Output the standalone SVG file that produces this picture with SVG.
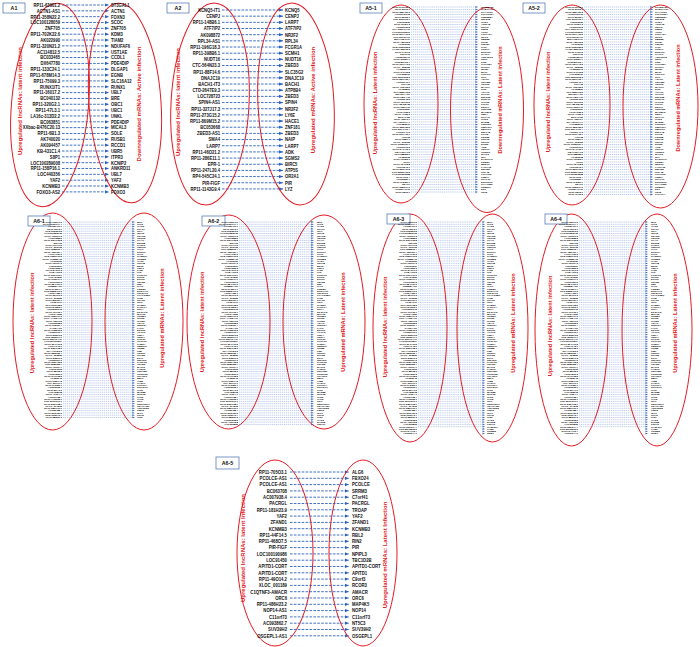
<svg xmlns="http://www.w3.org/2000/svg" width="700" height="647" viewBox="0 0 700 647">
<style>
text{font-family:"Liberation Sans",Arial,sans-serif;font-weight:bold}
.g{font-size:5.2px;fill:#111}
.e{text-anchor:end}
.s{font-size:2.5px;fill:#000}
.v{font-size:6px;fill:#e31b23;text-anchor:middle}
.v2{font-size:5.6px}
.el{fill:none;stroke:#e31b23;stroke-width:1}
.bx{fill:#fff;stroke:#5a7fb8;stroke-width:.8}
.bt{font-size:5.3px;fill:#111;text-anchor:middle}
.cn{fill:none;stroke:#2d62bd;stroke-width:.9;stroke-dasharray:2.6 1.3;marker-end:url(#ah)}
.sc{fill:none;stroke:#6d8fcf;stroke-width:.45;stroke-dasharray:1.2 .7}
.sa{fill:#3563b5}
</style>
<defs>
<marker id="ah" markerUnits="userSpaceOnUse" markerWidth="4" markerHeight="4" viewBox="0 0 4 4" refX="4" refY="2" orient="auto"><path d="M0 .4L4 2L0 3.6z" fill="#2d62bd"/></marker>
<clipPath id="c74"><rect x="-60" y="-2" width="180" height="188.2"/></clipPath>
<clipPath id="c86"><rect x="-60" y="-2" width="180" height="198.6"/></clipPath>
<clipPath id="c89"><rect x="-60" y="-2" width="180" height="205.5"/></clipPath>
<path id="K5" class="sc" d="M1 0h63m-63 2.5h63m-63 2.5h63m-63 2.5h63m-63 2.5h63m-63 2.5h63m-63 2.5h63m-63 2.5h63m-63 2.5h63m-63 2.5h63m-63 2.5h63m-63 2.5h63m-63 2.5h63m-63 2.5h63m-63 2.5h63m-63 2.5h63m-63 2.5h63m-63 2.5h63m-63 2.5h63m-63 2.5h63m-63 2.5h63m-63 2.5h63m-63 2.5h63m-63 2.5h63m-63 2.5h63m-63 2.5h63m-63 2.5h63m-63 2.5h63m-63 2.5h63m-63 2.5h63m-63 2.5h63m-63 2.5h63m-63 2.5h63m-63 2.5h63m-63 2.5h63m-63 2.5h63m-63 2.5h63m-63 2.5h63m-63 2.5h63m-63 2.5h63m-63 2.5h63m-63 2.5h63m-63 2.5h63m-63 2.5h63m-63 2.5h63m-63 2.5h63m-63 2.5h63m-63 2.5h63m-63 2.5h63m-63 2.5h63m-63 2.5h63m-63 2.5h63m-63 2.5h63m-63 2.5h63m-63 2.5h63m-63 2.5h63m-63 2.5h63m-63 2.5h63m-63 2.5h63m-63 2.5h63m-63 2.5h63m-63 2.5h63m-63 2.5h63m-63 2.5h63m-63 2.5h63m-63 2.5h63m-63 2.5h63m-63 2.5h63m-63 2.5h63m-63 2.5h63m-63 2.5h63m-63 2.5h63m-63 2.5h63m-63 2.5h63m-63 2.5h63m-63 2.5h63"/>
<path id="H5" class="sa" d="M67 0l-2.6-.9v1.8zm0 2.5l-2.6-.9v1.8zm0 2.5l-2.6-.9v1.8zm0 2.5l-2.6-.9v1.8zm0 2.5l-2.6-.9v1.8zm0 2.5l-2.6-.9v1.8zm0 2.5l-2.6-.9v1.8zm0 2.5l-2.6-.9v1.8zm0 2.5l-2.6-.9v1.8zm0 2.5l-2.6-.9v1.8zm0 2.5l-2.6-.9v1.8zm0 2.5l-2.6-.9v1.8zm0 2.5l-2.6-.9v1.8zm0 2.5l-2.6-.9v1.8zm0 2.5l-2.6-.9v1.8zm0 2.5l-2.6-.9v1.8zm0 2.5l-2.6-.9v1.8zm0 2.5l-2.6-.9v1.8zm0 2.5l-2.6-.9v1.8zm0 2.5l-2.6-.9v1.8zm0 2.5l-2.6-.9v1.8zm0 2.5l-2.6-.9v1.8zm0 2.5l-2.6-.9v1.8zm0 2.5l-2.6-.9v1.8zm0 2.5l-2.6-.9v1.8zm0 2.5l-2.6-.9v1.8zm0 2.5l-2.6-.9v1.8zm0 2.5l-2.6-.9v1.8zm0 2.5l-2.6-.9v1.8zm0 2.5l-2.6-.9v1.8zm0 2.5l-2.6-.9v1.8zm0 2.5l-2.6-.9v1.8zm0 2.5l-2.6-.9v1.8zm0 2.5l-2.6-.9v1.8zm0 2.5l-2.6-.9v1.8zm0 2.5l-2.6-.9v1.8zm0 2.5l-2.6-.9v1.8zm0 2.5l-2.6-.9v1.8zm0 2.5l-2.6-.9v1.8zm0 2.5l-2.6-.9v1.8zm0 2.5l-2.6-.9v1.8zm0 2.5l-2.6-.9v1.8zm0 2.5l-2.6-.9v1.8zm0 2.5l-2.6-.9v1.8zm0 2.5l-2.6-.9v1.8zm0 2.5l-2.6-.9v1.8zm0 2.5l-2.6-.9v1.8zm0 2.5l-2.6-.9v1.8zm0 2.5l-2.6-.9v1.8zm0 2.5l-2.6-.9v1.8zm0 2.5l-2.6-.9v1.8zm0 2.5l-2.6-.9v1.8zm0 2.5l-2.6-.9v1.8zm0 2.5l-2.6-.9v1.8zm0 2.5l-2.6-.9v1.8zm0 2.5l-2.6-.9v1.8zm0 2.5l-2.6-.9v1.8zm0 2.5l-2.6-.9v1.8zm0 2.5l-2.6-.9v1.8zm0 2.5l-2.6-.9v1.8zm0 2.5l-2.6-.9v1.8zm0 2.5l-2.6-.9v1.8zm0 2.5l-2.6-.9v1.8zm0 2.5l-2.6-.9v1.8zm0 2.5l-2.6-.9v1.8zm0 2.5l-2.6-.9v1.8zm0 2.5l-2.6-.9v1.8zm0 2.5l-2.6-.9v1.8zm0 2.5l-2.6-.9v1.8zm0 2.5l-2.6-.9v1.8zm0 2.5l-2.6-.9v1.8zm0 2.5l-2.6-.9v1.8zm0 2.5l-2.6-.9v1.8zm0 2.5l-2.6-.9v1.8zm0 2.5l-2.6-.9v1.8zm0 2.5l-2.6-.9v1.8z"/>
<path id="K6" class="sc" d="M1 0h67.5m-67.5 2.3h67.5m-67.5 2.3h67.5m-67.5 2.3h67.5m-67.5 2.3h67.5m-67.5 2.3h67.5m-67.5 2.3h67.5m-67.5 2.3h67.5m-67.5 2.3h67.5m-67.5 2.3h67.5m-67.5 2.3h67.5m-67.5 2.3h67.5m-67.5 2.3h67.5m-67.5 2.3h67.5m-67.5 2.3h67.5m-67.5 2.3h67.5m-67.5 2.3h67.5m-67.5 2.3h67.5m-67.5 2.3h67.5m-67.5 2.3h67.5m-67.5 2.3h67.5m-67.5 2.3h67.5m-67.5 2.3h67.5m-67.5 2.3h67.5m-67.5 2.3h67.5m-67.5 2.3h67.5m-67.5 2.3h67.5m-67.5 2.3h67.5m-67.5 2.3h67.5m-67.5 2.3h67.5m-67.5 2.3h67.5m-67.5 2.3h67.5m-67.5 2.3h67.5m-67.5 2.3h67.5m-67.5 2.3h67.5m-67.5 2.3h67.5m-67.5 2.3h67.5m-67.5 2.3h67.5m-67.5 2.3h67.5m-67.5 2.3h67.5m-67.5 2.3h67.5m-67.5 2.3h67.5m-67.5 2.3h67.5m-67.5 2.3h67.5m-67.5 2.3h67.5m-67.5 2.3h67.5m-67.5 2.3h67.5m-67.5 2.3h67.5m-67.5 2.3h67.5m-67.5 2.3h67.5m-67.5 2.3h67.5m-67.5 2.3h67.5m-67.5 2.3h67.5m-67.5 2.3h67.5m-67.5 2.3h67.5m-67.5 2.3h67.5m-67.5 2.3h67.5m-67.5 2.3h67.5m-67.5 2.3h67.5m-67.5 2.3h67.5m-67.5 2.3h67.5m-67.5 2.3h67.5m-67.5 2.3h67.5m-67.5 2.3h67.5m-67.5 2.3h67.5m-67.5 2.3h67.5m-67.5 2.3h67.5m-67.5 2.3h67.5m-67.5 2.3h67.5m-67.5 2.3h67.5m-67.5 2.3h67.5m-67.5 2.3h67.5m-67.5 2.3h67.5m-67.5 2.3h67.5m-67.5 2.3h67.5m-67.5 2.3h67.5m-67.5 2.3h67.5m-67.5 2.3h67.5m-67.5 2.3h67.5m-67.5 2.3h67.5m-67.5 2.3h67.5m-67.5 2.3h67.5m-67.5 2.3h67.5m-67.5 2.3h67.5m-67.5 2.3h67.5m-67.5 2.3h67.5m-67.5 2.3h67.5m-67.5 2.3h67.5m-67.5 2.3h67.5m-67.5 2.3h67.5"/>
<path id="H6" class="sa" d="M71 0l-2.6-.9v1.8zm0 2.3l-2.6-.9v1.8zm0 2.3l-2.6-.9v1.8zm0 2.3l-2.6-.9v1.8zm0 2.3l-2.6-.9v1.8zm0 2.3l-2.6-.9v1.8zm0 2.3l-2.6-.9v1.8zm0 2.3l-2.6-.9v1.8zm0 2.3l-2.6-.9v1.8zm0 2.3l-2.6-.9v1.8zm0 2.3l-2.6-.9v1.8zm0 2.3l-2.6-.9v1.8zm0 2.3l-2.6-.9v1.8zm0 2.3l-2.6-.9v1.8zm0 2.3l-2.6-.9v1.8zm0 2.3l-2.6-.9v1.8zm0 2.3l-2.6-.9v1.8zm0 2.3l-2.6-.9v1.8zm0 2.3l-2.6-.9v1.8zm0 2.3l-2.6-.9v1.8zm0 2.3l-2.6-.9v1.8zm0 2.3l-2.6-.9v1.8zm0 2.3l-2.6-.9v1.8zm0 2.3l-2.6-.9v1.8zm0 2.3l-2.6-.9v1.8zm0 2.3l-2.6-.9v1.8zm0 2.3l-2.6-.9v1.8zm0 2.3l-2.6-.9v1.8zm0 2.3l-2.6-.9v1.8zm0 2.3l-2.6-.9v1.8zm0 2.3l-2.6-.9v1.8zm0 2.3l-2.6-.9v1.8zm0 2.3l-2.6-.9v1.8zm0 2.3l-2.6-.9v1.8zm0 2.3l-2.6-.9v1.8zm0 2.3l-2.6-.9v1.8zm0 2.3l-2.6-.9v1.8zm0 2.3l-2.6-.9v1.8zm0 2.3l-2.6-.9v1.8zm0 2.3l-2.6-.9v1.8zm0 2.3l-2.6-.9v1.8zm0 2.3l-2.6-.9v1.8zm0 2.3l-2.6-.9v1.8zm0 2.3l-2.6-.9v1.8zm0 2.3l-2.6-.9v1.8zm0 2.3l-2.6-.9v1.8zm0 2.3l-2.6-.9v1.8zm0 2.3l-2.6-.9v1.8zm0 2.3l-2.6-.9v1.8zm0 2.3l-2.6-.9v1.8zm0 2.3l-2.6-.9v1.8zm0 2.3l-2.6-.9v1.8zm0 2.3l-2.6-.9v1.8zm0 2.3l-2.6-.9v1.8zm0 2.3l-2.6-.9v1.8zm0 2.3l-2.6-.9v1.8zm0 2.3l-2.6-.9v1.8zm0 2.3l-2.6-.9v1.8zm0 2.3l-2.6-.9v1.8zm0 2.3l-2.6-.9v1.8zm0 2.3l-2.6-.9v1.8zm0 2.3l-2.6-.9v1.8zm0 2.3l-2.6-.9v1.8zm0 2.3l-2.6-.9v1.8zm0 2.3l-2.6-.9v1.8zm0 2.3l-2.6-.9v1.8zm0 2.3l-2.6-.9v1.8zm0 2.3l-2.6-.9v1.8zm0 2.3l-2.6-.9v1.8zm0 2.3l-2.6-.9v1.8zm0 2.3l-2.6-.9v1.8zm0 2.3l-2.6-.9v1.8zm0 2.3l-2.6-.9v1.8zm0 2.3l-2.6-.9v1.8zm0 2.3l-2.6-.9v1.8zm0 2.3l-2.6-.9v1.8zm0 2.3l-2.6-.9v1.8zm0 2.3l-2.6-.9v1.8zm0 2.3l-2.6-.9v1.8zm0 2.3l-2.6-.9v1.8zm0 2.3l-2.6-.9v1.8zm0 2.3l-2.6-.9v1.8zm0 2.3l-2.6-.9v1.8zm0 2.3l-2.6-.9v1.8zm0 2.3l-2.6-.9v1.8zm0 2.3l-2.6-.9v1.8zm0 2.3l-2.6-.9v1.8zm0 2.3l-2.6-.9v1.8zm0 2.3l-2.6-.9v1.8zm0 2.3l-2.6-.9v1.8zm0 2.3l-2.6-.9v1.8zm0 2.3l-2.6-.9v1.8zm0 2.3l-2.6-.9v1.8z"/>
<g id="L5" class="s e"><text y="0.85">RP11-543P15.1</text><text y="3.35">RP11-81K2.1</text><text y="5.85">RP11-382A20.3</text><text y="8.35">AC009133.15</text><text y="10.85">RP11-20I23.1</text><text y="13.35">CTD-2319I12.1</text><text y="15.85">LINC00339</text><text y="18.35">RP11-10J21.3</text><text y="20.85">AC006160.5</text><text y="23.35">RP4-669L17.10</text><text y="25.85">LOC100130691</text><text y="28.35">RP11-297A16.2</text><text y="30.85">CTC-297N7.11</text><text y="33.35">MIR4435-1HG</text><text y="35.85">RP11-480I12.5</text><text y="38.35">AK093720</text><text y="40.85">RP5-1065J22.8</text><text y="43.35">LA16c-380H5.3</text><text y="45.85">RP11-14N7.2</text><text y="48.35">SNHG16</text><text y="50.85">AC005789.11</text><text y="53.35">RP11-395B7.7</text><text y="55.85">CTB-89H12.4</text><text y="58.35">RP11-1277A3.2</text><text y="60.85">XLOC_008152</text><text y="63.35">AL353354.2</text><text y="65.85">RP11-64K12.8</text><text y="68.35">LOC338799</text><text y="70.85">CTD-2201E18.3</text><text y="73.35">RP11-557H15.4</text><text y="75.85">AC012146.7</text><text y="78.35">TTTY15</text><text y="80.85">RP11-415F23.2</text><text y="83.35">AK125809</text><text y="85.85">RP1-228H13.5</text><text y="88.35">ZNF667-AS1</text><text y="90.85">RP11-18I14.10</text><text y="93.35">AC093642.5</text><text y="95.85">RP11-73G16.2</text><text y="98.35">CTA-384D8.35</text><text y="100.85">RP11-96D1.10</text><text y="103.35">LINC00657</text><text y="105.85">AC104135.3</text><text y="108.35">RP11-47I22.3</text><text y="110.85">BC041426</text><text y="113.35">RP11-452L6.7</text><text y="115.85">RP4-697K14.7</text><text y="118.35">LOC283070</text><text y="120.85">RP11-325F22.2</text><text y="123.35">CTD-3214H19.4</text><text y="125.85">AC016747.3</text><text y="128.35">RP11-219A15.1</text><text y="130.85">HCG18</text><text y="133.35">RP11-33B1.1</text><text y="135.85">XLOC_012753</text><text y="138.35">RP11-1008C21.1</text><text y="140.85">AC010970.2</text><text y="143.35">RP11-244F12.1</text><text y="145.85">KB-1460A1.5</text><text y="148.35">RP3-388M5.9</text><text y="150.85">AK056098</text><text y="153.35">RP11-761B3.1</text><text y="155.85">TUG1</text><text y="158.35">RP11-134G8.8</text><text y="160.85">AC073343.1</text><text y="163.35">RP11-539L10.2</text><text y="165.85">CTD-2530H12.2</text><text y="168.35">LOC100506258</text><text y="170.85">RP11-6O2.4</text><text y="173.35">AC092580.4</text><text y="175.85">RP11-342M1.7</text><text y="178.35">NEAT1</text><text y="180.85">RP11-305E17.6</text><text y="183.35">AC008440.10</text><text y="185.85">RP11-65J3.1</text><text y="188.35">RP11-1L12.3</text></g>
<g id="R5" class="s"><text y="0.85">SLC25A36</text><text y="3.35">RABGAP1L</text><text y="5.85">KIAA1109</text><text y="8.35">PPP1R12A</text><text y="10.85">TMEM55A</text><text y="13.35">ZNF318</text><text y="15.85">CHD9</text><text y="18.35">ARID4B</text><text y="20.85">USP34</text><text y="23.35">SMC5</text><text y="25.85">ATRX</text><text y="28.35">PRPF40A</text><text y="30.85">NKTR</text><text y="33.35">RBM25</text><text y="35.85">SFPQ</text><text y="38.35">KMT2C</text><text y="40.85">PHIP</text><text y="43.35">CCNL1</text><text y="45.85">ZC3H13</text><text y="48.35">TAOK1</text><text y="50.85">ANKRD12</text><text y="53.35">SETX</text><text y="55.85">PNN</text><text y="58.35">GOLGB1</text><text y="60.85">ROCK1</text><text y="63.35">NIPBL</text><text y="65.85">BPTF</text><text y="68.35">LUC7L3</text><text y="70.85">RIF1</text><text y="73.35">ASH1L</text><text y="75.85">CEP350</text><text y="78.35">HERC2</text><text y="80.85">MACF1</text><text y="83.35">SON</text><text y="85.85">AKAP9</text><text y="88.35">CLOCK</text><text y="90.85">ZNF638</text><text y="93.35">SRSF11</text><text y="95.85">THOC2</text><text y="98.35">PCF11</text><text y="100.85">DDX17</text><text y="103.35">TNRC6B</text><text y="105.85">MYCBP2</text><text y="108.35">UBR4</text><text y="110.85">NCOA6</text><text y="113.35">CHD2</text><text y="115.85">BAZ2B</text><text y="118.35">PRRC2C</text><text y="120.85">SMCHD1</text><text y="123.35">RB1CC1</text><text y="125.85">ZNF148</text><text y="128.35">KIF1B</text><text y="130.85">PDS5B</text><text y="133.35">TRIP12</text><text y="135.85">USP9X</text><text y="138.35">EP300</text><text y="140.85">ATM</text><text y="143.35">CNOT1</text><text y="145.85">HUWE1</text><text y="148.35">ZFHX3</text><text y="150.85">NF1</text><text y="153.35">DYNC1H1</text><text y="155.85">KDM5A</text><text y="158.35">MED13</text><text y="160.85">LARP4B</text><text y="163.35">ZMYM2</text><text y="165.85">CUL4B</text><text y="168.35">TOPORS</text><text y="170.85">FNBP4</text><text y="173.35">SCAF11</text><text y="175.85">ERCC6L2</text><text y="178.35">KIAA1551</text><text y="180.85">RSBN1L</text><text y="183.35">DST</text><text y="185.85">TET2</text><text y="188.35">PAPOLA</text></g>
<g id="L6" class="s e"><text y="0.8">RP11-126K1.6</text><text y="3.1">RP11-1006G14.4</text><text y="5.4">AC068491.1</text><text y="7.7">RP11-60L3.1</text><text y="10">CTD-2126E3.5</text><text y="12.3">LOC100505715</text><text y="14.6">RP11-463J10.3</text><text y="16.9">AC011288.2</text><text y="19.2">RP11-227G15.8</text><text y="21.5">SNHG5</text><text y="23.8">RP11-797H7.5</text><text y="26.1">XLOC_006733</text><text y="28.4">CTC-338M12.4</text><text y="30.7">RP11-452H21.4</text><text y="33">AC114730.3</text><text y="35.3">RP5-1180C10.2</text><text y="37.6">RP11-473M20.16</text><text y="39.9">AK092120</text><text y="42.2">RP11-10C24.3</text><text y="44.5">LINC00667</text><text y="46.8">AC007383.3</text><text y="49.1">RP11-541P9.3</text><text y="51.4">CTB-41I6.2</text><text y="53.7">RP11-399O19.9</text><text y="56">LOC401320</text><text y="58.3">RP11-116D17.1</text><text y="60.6">AC019181.2</text><text y="62.9">RP11-284F21.9</text><text y="65.2">PSMB8-AS1</text><text y="67.5">RP11-24M17.7</text><text y="69.8">CTD-2528L19.6</text><text y="72.1">AC004486.1</text><text y="74.4">RP11-367G6.3</text><text y="76.7">XLOC_010265</text><text y="79">RP11-89K21.1</text><text y="81.3">AK024171</text><text y="83.6">RP1-193H18.2</text><text y="85.9">RP11-543D5.1</text><text y="88.2">AC012363.13</text><text y="90.5">RP11-71G12.1</text><text y="92.8">LOC644656</text><text y="95.1">RP11-395P17.3</text><text y="97.4">CTC-444N24.11</text><text y="99.7">RP11-420L9.5</text><text y="102">AC093668.2</text><text y="104.3">RP11-212I21.4</text><text y="106.6">GAS5-AS1</text><text y="108.9">RP11-175B12.2</text><text y="111.2">AC020916.1</text><text y="113.5">RP11-553L6.5</text><text y="115.8">CTD-2005H7.1</text><text y="118.1">RP11-357H14.17</text><text y="120.4">LOC100131564</text><text y="122.7">RP11-304L19.5</text><text y="125">AC074143.1</text><text y="127.3">RP11-259G18.3</text><text y="129.6">RP4-717I23.3</text><text y="131.9">RP11-686D22.4</text><text y="134.2">XLOC_003526</text><text y="136.5">RP11-532F6.3</text><text y="138.8">AC005154.6</text><text y="141.1">RP11-318A15.2</text><text y="143.4">CTD-2589M5.4</text><text y="145.7">RP11-46C24.7</text><text y="148">LINC01003</text><text y="150.3">RP11-88I18.3</text><text y="152.6">AC024560.3</text><text y="154.9">RP11-347C18.5</text><text y="157.2">AK055145</text><text y="159.5">RP11-93B14.5</text><text y="161.8">CTA-29F11.1</text><text y="164.1">RP11-640M9.1</text><text y="166.4">AC003092.1</text><text y="168.7">RP11-81A1.6</text><text y="171">LOC728978</text><text y="173.3">RP11-410E4.1</text><text y="175.6">AC016738.4</text><text y="177.9">RP11-146N23.1</text><text y="180.2">CTD-2017D11.1</text><text y="182.5">RP11-536O18.1</text><text y="184.8">XLOC_014512</text><text y="187.1">RP11-680G10.1</text><text y="189.4">AC108488.4</text><text y="191.7">RP11-290F20.3</text><text y="194">RP5-1092A3.4</text><text y="196.3">RP11-58E21.3</text><text y="198.6">AC021218.2</text><text y="200.9">RP11-403I13.8</text><text y="203.2">LOC339862</text><text y="205.5">RP11-669E14.4</text><text y="207.8">CTD-2540B15.9</text><text y="210.1">RP11-244H3.4</text><text y="212.4">AC096644.1</text></g>
<g id="R6" class="s"><text y="0.8">MX1</text><text y="3.1">IFIT3</text><text y="5.4">OAS2</text><text y="7.7">STAT1</text><text y="10">IRF7</text><text y="12.3">ISG15</text><text y="14.6">RSAD2</text><text y="16.9">HERC5</text><text y="19.2">IFI44L</text><text y="21.5">DDX58</text><text y="23.8">PARP9</text><text y="26.1">CMPK2</text><text y="28.4">XAF1</text><text y="30.7">EPSTI1</text><text y="33">IFIH1</text><text y="35.3">SAMD9L</text><text y="37.6">TRIM22</text><text y="39.9">OASL</text><text y="42.2">USP18</text><text y="44.5">BST2</text><text y="46.8">GBP1</text><text y="49.1">LY6E</text><text y="51.4">IFI6</text><text y="53.7">PLSCR1</text><text y="56">SP110</text><text y="58.3">DTX3L</text><text y="60.6">HELZ2</text><text y="62.9">NMI</text><text y="65.2">TAP1</text><text y="67.5">PSMB9</text><text y="69.8">ZC3HAV1</text><text y="72.1">TNFSF10</text><text y="74.4">LGALS3BP</text><text y="76.7">IFI35</text><text y="79">STAT2</text><text y="81.3">IRF9</text><text y="83.6">SAMD9</text><text y="85.9">PARP14</text><text y="88.2">RTP4</text><text y="90.5">EIF2AK2</text><text y="92.8">MOV10</text><text y="95.1">TRIM21</text><text y="97.4">SP100</text><text y="99.7">IFITM1</text><text y="102">ADAR</text><text y="104.3">NT5C3A</text><text y="106.6">LAP3</text><text y="108.9">DDX60</text><text y="111.2">APOL6</text><text y="113.5">GBP4</text><text y="115.8">CD274</text><text y="118.1">SOCS1</text><text y="120.4">CXCL10</text><text y="122.7">IL15RA</text><text y="125">UBE2L6</text><text y="127.3">TRIM5</text><text y="129.6">PML</text><text y="131.9">TDRD7</text><text y="134.2">SLFN5</text><text y="136.5">ETV7</text><text y="138.8">RNF213</text><text y="141.1">PARP12</text><text y="143.4">HSH2D</text><text y="145.7">BATF2</text><text y="148">LAMP3</text><text y="150.3">SECTM1</text><text y="152.6">C19orf66</text><text y="154.9">TRANK1</text><text y="157.2">ZBP1</text><text y="159.5">AIM2</text><text y="161.8">CASP1</text><text y="164.1">FCGR1A</text><text y="166.4">SIGLEC1</text><text y="168.7">IFI16</text><text y="171">MYD88</text><text y="173.3">NLRC5</text><text y="175.6">TLR3</text><text y="177.9">JAK2</text><text y="180.2">IRF1</text><text y="182.5">SERPING1</text><text y="184.8">CEACAM1</text><text y="187.1">ANKRD22</text><text y="189.4">GBP5</text><text y="191.7">IDO1</text><text y="194">CCL8</text><text y="196.3">IFI27</text><text y="198.6">OAS3</text><text y="200.9">DHX58</text><text y="203.2">PNPT1</text><text y="205.5">SAMHD1</text><text y="207.8">TYMP</text><text y="210.1">TRIM25</text><text y="212.4">NUB1</text></g>
</defs>
<rect width="700" height="647" fill="#fff"/>

<g id="connectors">
<g id="conn-A1">
<path class="cn" d="M62 5H109"/><path class="cn" d="M62 10.84H109"/><path class="cn" d="M62 16.68H109"/><path class="cn" d="M62 22.52H109"/><path class="cn" d="M62 28.36H109"/><path class="cn" d="M62 34.2H109"/><path class="cn" d="M62 40.04H109"/><path class="cn" d="M62 45.88H109"/><path class="cn" d="M62 51.72H109"/><path class="cn" d="M62 57.56H109"/><path class="cn" d="M62 63.4H109"/><path class="cn" d="M62 69.24H109"/><path class="cn" d="M62 75.08H109"/><path class="cn" d="M62 80.92H109"/><path class="cn" d="M62 86.76H109"/><path class="cn" d="M62 92.6H109"/><path class="cn" d="M62 98.44H109"/><path class="cn" d="M62 104.28H109"/><path class="cn" d="M62 110.12H109"/><path class="cn" d="M62 115.96H109"/><path class="cn" d="M62 121.8H109"/><path class="cn" d="M62 127.64H109"/><path class="cn" d="M62 133.48H109"/><path class="cn" d="M62 139.32H109"/><path class="cn" d="M62 145.16H109"/><path class="cn" d="M62 151H109"/><path class="cn" d="M62 156.84H109"/><path class="cn" d="M62 162.68H109"/><path class="cn" d="M62 168.52H109"/><path class="cn" d="M62 174.36H109"/><path class="cn" d="M62 180.2H109"/><path class="cn" d="M62 186.04H109"/><path class="cn" d="M62 191.88H109"/>
</g>
<g id="conn-A2">
<path class="cn" d="M222 10H283"/><path class="cn" d="M222 16.17H283"/><path class="cn" d="M222 22.34H283"/><path class="cn" d="M222 28.51H283"/><path class="cn" d="M222 34.68H283"/><path class="cn" d="M222 40.85H283"/><path class="cn" d="M222 47.02H283"/><path class="cn" d="M222 53.19H283"/><path class="cn" d="M222 59.36H283"/><path class="cn" d="M222 65.53H283"/><path class="cn" d="M222 71.7H283"/><path class="cn" d="M222 77.87H283"/><path class="cn" d="M222 84.04H283"/><path class="cn" d="M222 90.21H283"/><path class="cn" d="M222 96.38H283"/><path class="cn" d="M222 102.55H283"/><path class="cn" d="M222 108.72H283"/><path class="cn" d="M222 114.89H283"/><path class="cn" d="M222 121.06H283"/><path class="cn" d="M222 127.23H283"/><path class="cn" d="M222 133.4H283"/><path class="cn" d="M222 139.57H283"/><path class="cn" d="M222 145.74H283"/><path class="cn" d="M222 151.91H283"/><path class="cn" d="M222 158.08H283"/><path class="cn" d="M222 164.25H283"/><path class="cn" d="M222 170.42H283"/><path class="cn" d="M222 176.59H283"/><path class="cn" d="M222 182.76H283"/><path class="cn" d="M222 188.93H283"/>
</g>
<g id="conn-A6-5">
<path class="cn" d="M290 472H349"/><path class="cn" d="M290 478.3H349"/><path class="cn" d="M290 484.6H349"/><path class="cn" d="M290 490.9H349"/><path class="cn" d="M290 497.2H349"/><path class="cn" d="M290 503.5H349"/><path class="cn" d="M290 509.8H349"/><path class="cn" d="M290 516.1H349"/><path class="cn" d="M290 522.4H349"/><path class="cn" d="M290 528.7H349"/><path class="cn" d="M290 535H349"/><path class="cn" d="M290 541.3H349"/><path class="cn" d="M290 547.6H349"/><path class="cn" d="M290 553.9H349"/><path class="cn" d="M290 560.2H349"/><path class="cn" d="M290 566.5H349"/><path class="cn" d="M290 572.8H349"/><path class="cn" d="M290 579.1H349"/><path class="cn" d="M290 585.4H349"/><path class="cn" d="M290 591.7H349"/><path class="cn" d="M290 598H349"/><path class="cn" d="M290 604.3H349"/><path class="cn" d="M290 610.6H349"/><path class="cn" d="M290 616.9H349"/><path class="cn" d="M290 623.2H349"/><path class="cn" d="M290 629.5H349"/><path class="cn" d="M290 635.8H349"/>
</g>
<g id="conn-A5-1" transform="translate(410 7) scale(1.015 1)" clip-path="url(#c74)"><use href="#K5"/><use href="#H5"/></g>
<g id="conn-A5-2" transform="translate(583 7) scale(1.045 1)"><use href="#K5"/><use href="#H5"/></g>
<g id="conn-A6-1" transform="translate(62 222) scale(1.028 1)" clip-path="url(#c86)"><use href="#K6"/><use href="#H6"/></g>
<g id="conn-A6-2" transform="translate(238 222) scale(1.07 1)" clip-path="url(#c89)"><use href="#K6"/><use href="#H6"/></g>
<g id="conn-A6-3" transform="translate(417 222) scale(0.958 1)"><use href="#K6"/><use href="#H6"/></g>
<g id="conn-A6-4" transform="translate(578 222) scale(0.986 1)"><use href="#K6"/><use href="#H6"/></g>
</g>

<g id="A1">
<ellipse class="el" cx="50" cy="105" rx="38.5" ry="102" transform="rotate(5 50 105)"/>
<ellipse class="el" cx="125" cy="103" rx="36" ry="100" transform="rotate(-4 125 103)"/>
<rect class="bx" x="3" y="3" width="22" height="10"/><text class="bt" x="14" y="9.9">A1</text>
<text class="v" transform="translate(22.1 101) rotate(-90)">Upregulated lncRNAs: latent infection</text>
<text class="v" transform="translate(141.1 104) rotate(-90)">Downregulated mRNAs: Active infection</text>
<g id="A1-lnc" class="g e" transform="translate(60 0) scale(.8 1)"><text y="6.9">RP11-63901.2</text><text y="12.7">ACTN1-AS1</text><text y="18.6">RP11-358N22.2</text><text y="24.4">LOC100128059</text><text y="30.3">ZNF705</text><text y="36.1">RP11-702K22.6</text><text y="41.9">AK022990</text><text y="47.8">RP11-320N21.2</text><text y="53.6">AC114812.5</text><text y="59.5">BC033465</text><text y="65.3">DX647780</text><text y="71.1">RP11-133C24.1</text><text y="77">RP11-678M14.3</text><text y="82.8">RP11-75099.3</text><text y="88.7">RUNX1IT1</text><text y="94.5">RP11-16017.2</text><text y="100.3">BC040132</text><text y="106.2">RP11-320G2.1</text><text y="112">RP11-47L3.1</text><text y="117.9">LA16c-313D2.2</text><text y="123.7">BC063851</text><text y="129.5">XXbac-B476C20.13</text><text y="135.4">RP11-6B1.3</text><text y="141.2">AK740020</text><text y="147.1">AK094457</text><text y="152.9">KB-431C1.4</text><text y="158.7">S8P1</text><text y="164.6">LOC100289008</text><text y="170.4">RP11-158P16.1</text><text y="176.3">LOC440356</text><text y="182.1">YAF2</text><text y="187.9">KCNMB3</text><text y="193.8">FOXO3-AS2</text></g>
<g id="A1-mrna" class="g" transform="translate(111 0) scale(.8 1)"><text y="6.9">ST3GAL1</text><text y="12.7">ACTN1</text><text y="18.6">FOXN3</text><text y="24.4">SCOC</text><text y="30.3">ZNF705</text><text y="36.1">KDM3</text><text y="41.9">TIAM2</text><text y="47.8">NDUFAF6</text><text y="53.6">UST1AE</text><text y="59.5">CCDL1</text><text y="65.3">PDE4DIP</text><text y="71.1">DLGAP1</text><text y="77">EGNB</text><text y="82.8">SLC16A12</text><text y="88.7">RUNX1</text><text y="94.5">UBL7</text><text y="100.3">BRE</text><text y="106.2">OBC1</text><text y="112">UBC1</text><text y="117.9">UNKL</text><text y="123.7">PDE4DIP</text><text y="129.5">MICAL3</text><text y="135.4">SOLE</text><text y="141.2">RUSB1</text><text y="147.1">RCCD1</text><text y="152.9">UBR5</text><text y="158.7">ITPR3</text><text y="164.6">KCNIP2</text><text y="170.4">ANKRD11</text><text y="176.3">UBL7</text><text y="182.1">YAF2</text><text y="187.9">KCNMB3</text><text y="193.8">FOXO3</text></g>
</g>

<g id="A2">
<ellipse class="el" cx="210" cy="104" rx="39" ry="101" transform="rotate(3 210 104)"/>
<ellipse class="el" cx="296" cy="104" rx="38" ry="101" transform="rotate(-3 296 104)"/>
<rect class="bx" x="167" y="3" width="22" height="10"/><text class="bt" x="178" y="9.9">A2</text>
<text class="v" transform="translate(180.1 102) rotate(-90)">Upregulated lncRNAs: latent infection</text>
<text class="v" transform="translate(315.1 100) rotate(-90)">Upregulated mRNAs: Active infection</text>
<g id="A2-lnc" class="g e" transform="translate(220 0) scale(.8 1)"><text y="11.9">KCNQ5-IT1</text><text y="18.1">CENPJ</text><text y="24.2">RP11-148B6.1</text><text y="30.4">ATF7IP2</text><text y="36.6">AK098872</text><text y="42.8">RPL34-AS1</text><text y="48.9">RP11-196G18.3</text><text y="55.1">RP11-398B6.1</text><text y="61.3">NUDT16</text><text y="67.4">CTC-564N23.3</text><text y="73.6">RP11-88F14.6</text><text y="79.8">DNAJC19</text><text y="85.9">BACH1-IT3</text><text y="92.1">CTD-2647E9.3</text><text y="98.3">LOC728723</text><text y="104.5">SPIN4-AS1</text><text y="110.6">RP11-327J17.3</text><text y="116.8">RP11-273G15.2</text><text y="123">RP11-869M15.2</text><text y="129.1">BC053668</text><text y="135.3">ZBED3-AS1</text><text y="141.5">SMA4</text><text y="147.6">LARP7</text><text y="153.8">RP11-46O21.2</text><text y="160">RP11-286E11.1</text><text y="166.2">EPR-1</text><text y="172.3">RP11-247L20.4</text><text y="178.5">RP4-545C24.1</text><text y="184.7">PIR-FIGF</text><text y="190.8">RP11-1143G9.4</text></g>
<g id="A2-mrna" class="g" transform="translate(285 0) scale(.8 1)"><text y="11.9">KCNQ5</text><text y="18.1">CENPJ</text><text y="24.2">LARP7</text><text y="30.4">ATF7IP2</text><text y="36.6">NR2F2</text><text y="42.8">RPL34</text><text y="48.9">FCGR1A</text><text y="55.1">SCMH1</text><text y="61.3">NUDT16</text><text y="67.4">ZBED3</text><text y="73.6">SLC35G2</text><text y="79.8">DNAJC19</text><text y="85.9">BACH1</text><text y="92.1">ATP8B4</text><text y="98.3">ZBED3</text><text y="104.5">SPIN4</text><text y="110.6">NR2F2</text><text y="116.8">LY6E</text><text y="123">HACE1</text><text y="129.1">ZNF181</text><text y="135.3">ZBED3</text><text y="141.5">NAIP</text><text y="147.6">LARP7</text><text y="153.8">ADK</text><text y="160">SGMS2</text><text y="166.2">BIRC5</text><text y="172.3">ATP5S</text><text y="178.5">OR2A1</text><text y="184.7">PIR</text><text y="190.8">LYZ</text></g>
</g>

<g id="A5-1">
<ellipse class="el" cx="401" cy="104" rx="37" ry="99"/>
<ellipse class="el" cx="487" cy="110" rx="36.5" ry="102.5"/>
<rect class="bx" x="360" y="3" width="22" height="10"/><text class="bt" x="371" y="9.9">A5-1</text>
<text class="v v2" transform="translate(377 103) rotate(-90)">Upregulated lncRNAs: Latent infection</text>
<text class="v v2" transform="translate(502 100) rotate(-90)">Downregulated mRNAs: Latent infection</text>
<g transform="translate(410 7)" clip-path="url(#c74)"><use href="#L5"/><use href="#R5" x="71"/></g>
</g>

<g id="A5-2">
<ellipse class="el" cx="572" cy="105" rx="38" ry="100"/>
<ellipse class="el" cx="660.5" cy="106.5" rx="37.5" ry="101.5"/>
<rect class="bx" x="523" y="3" width="22" height="10"/><text class="bt" x="534" y="9.9">A5-2</text>
<text class="v v2" transform="translate(550 102) rotate(-90)">Upregulated lncRNAs: latent infection</text>
<text class="v v2" transform="translate(680 98) rotate(-90)">Downregulated mRNAs: Latent infection</text>
<g transform="translate(583 7)"><use href="#L5"/><use href="#R5" x="72"/></g>
</g>

<g id="A6-1">
<ellipse class="el" cx="52.5" cy="321.5" rx="39.5" ry="108.5"/>
<ellipse class="el" cx="144" cy="321.5" rx="39" ry="108.5"/>
<rect class="bx" x="28" y="216" width="22" height="10"/><text class="bt" x="39" y="222.9">A6-1</text>
<text class="v v2" transform="translate(34 323) rotate(-90)">Upregulated lncRNAs: latent infection</text>
<text class="v v2" transform="translate(164 318) rotate(-90)">Upregulated mRNAs: Latent infection</text>
<g transform="translate(62 222)" clip-path="url(#c86)"><use href="#L6"/><use href="#R6" x="75"/></g>
</g>

<g id="A6-2">
<ellipse class="el" cx="228.5" cy="322" rx="41.5" ry="107"/>
<ellipse class="el" cx="324" cy="322" rx="41" ry="107"/>
<rect class="bx" x="202" y="216" width="23" height="10"/><text class="bt" x="213.5" y="222.9">A6-2</text>
<text class="v v2" transform="translate(204 322) rotate(-90)">Upregulated lncRNAs: latent infection</text>
<text class="v v2" transform="translate(345 322) rotate(-90)">Upregulated mRNAs: Latent infection</text>
<g transform="translate(238 222)" clip-path="url(#c89)"><use href="#L6"/><use href="#R6" x="79"/></g>
</g>

<g id="A6-3">
<ellipse class="el" cx="410" cy="328" rx="37" ry="114"/>
<ellipse class="el" cx="492.5" cy="328" rx="35.5" ry="114"/>
<rect class="bx" x="387" y="214" width="23" height="10"/><text class="bt" x="398.5" y="220.9">A6-3</text>
<text class="v v2" transform="translate(387 327) rotate(-90)">Upregulated lncRNAs: latent infection</text>
<text class="v v2" transform="translate(515 323) rotate(-90)">Upregulated mRNAs: Latent infection</text>
<g transform="translate(417 222)"><use href="#L6"/><use href="#R6" x="70"/></g>
</g>

<g id="A6-4">
<ellipse class="el" cx="571.5" cy="330" rx="36.5" ry="116"/>
<ellipse class="el" cx="657" cy="330" rx="35" ry="116"/>
<rect class="bx" x="545" y="214" width="22" height="10"/><text class="bt" x="556" y="220.9">A6-4</text>
<text class="v v2" transform="translate(552 326) rotate(-90)">Upregulated lncRNAs: latent infection</text>
<text class="v v2" transform="translate(677 323) rotate(-90)">Upregulated mRNAs: Latent infection</text>
<g transform="translate(578 222)"><use href="#L6"/><use href="#R6" x="73"/></g>
</g>

<g id="A6-5">
<ellipse class="el" cx="275" cy="553" rx="38" ry="93"/>
<ellipse class="el" cx="363" cy="553" rx="34" ry="93"/>
<rect class="bx" x="216" y="457" width="23" height="12"/><text class="bt" x="227.5" y="464.9">A6-5</text>
<text class="v" transform="translate(245.1 548) rotate(-90)">Upregulated lncRNAs: latent Infection</text>
<text class="v" transform="translate(387.1 555) rotate(-90)">Upregulated mRNAs: Latent Infection</text>
<g id="A6-5-lnc" class="g e" transform="translate(287 0) scale(.82 1)"><text y="473.9">RP11-705O3.1</text><text y="480.2">PCOLCE-AS1</text><text y="486.5">PCOLCE-AS1</text><text y="492.8">BC063708</text><text y="499.1">AC007938.4</text><text y="505.4">PACRGL</text><text y="511.7">RP11-181H23.9</text><text y="518">YAF2</text><text y="524.3">ZFAND1</text><text y="530.6">KCNMB3</text><text y="536.9">RP11-44F14.5</text><text y="543.2">RP11-468O7.5</text><text y="549.5">PIR-FIGF</text><text y="555.8">LOC100190986</text><text y="562.1">LOC91450</text><text y="568.4">APITD1-CORT</text><text y="574.7">APITD1-CORT</text><text y="581">RP11-49O14.2</text><text y="587.3">XLOC_001189</text><text y="593.6">C1QTNF3-AMACR</text><text y="599.9">ORC6</text><text y="606.2">RP11-486H23.2</text><text y="612.5">NOP14-AS1</text><text y="618.8">C11orf73</text><text y="625.1">AC093862.7</text><text y="631.4">SUV39H2</text><text y="637.7">OSGEPL1-AS1</text></g>
<g id="A6-5-mrna" class="g" transform="translate(352 0) scale(.82 1)"><text y="473.9">ALG6</text><text y="480.2">FBXO24</text><text y="486.5">PCOLCE</text><text y="492.8">SRRM3</text><text y="499.1">C7orf41</text><text y="505.4">PACRGL</text><text y="511.7">TROAP</text><text y="518">YAF2</text><text y="524.3">ZFAND1</text><text y="530.6">KCNMB3</text><text y="536.9">RBL2</text><text y="543.2">RIN2</text><text y="549.5">PIR</text><text y="555.8">NPIPL3</text><text y="562.1">TBC1D2B</text><text y="568.4">APITD1-CORT</text><text y="574.7">APITD1</text><text y="581">C9orf3</text><text y="587.3">RCOR3</text><text y="593.6">AMACR</text><text y="599.9">ORC6</text><text y="606.2">MAP4K5</text><text y="612.5">NOP14</text><text y="618.8">C11orf73</text><text y="625.1">NT5C3</text><text y="631.4">SUV39H2</text><text y="637.7">OSGEPL1</text></g>
</g>
</svg>
